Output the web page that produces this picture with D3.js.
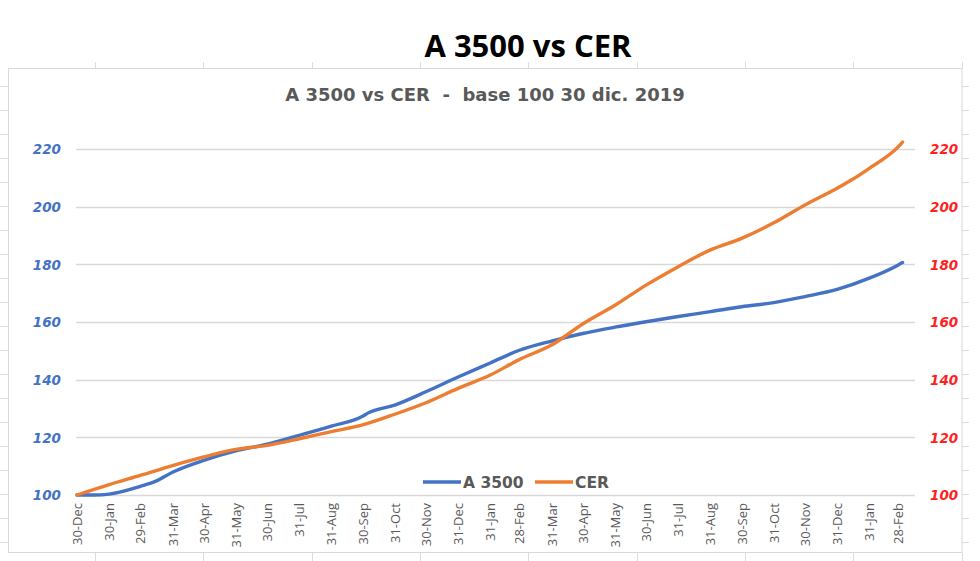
<!DOCTYPE html>
<html>
<head>
<meta charset="utf-8">
<script src="https://cdn.jsdelivr.net/npm/d3@7"></script>
<style>
  html, body { margin: 0; padding: 0; background: #fff; }
  svg { display: block; }
  text { white-space: pre; }
</style>
</head>
<body>
<svg id="chart" width="980" height="561"></svg>
<script>
// ---- data ----
const titleText = "A 3500 vs CER";
const subtitleText = "A 3500 vs CER  -  base 100 30 dic. 2019";
const seriesNames = ["A 3500", "CER"];

const a3500Dates = ["2019-12-30","2020-01-15","2020-01-30","2020-02-29","2020-03-15","2020-03-31","2020-04-30","2020-05-31","2020-06-30","2020-07-31","2020-08-31","2020-09-30","2020-10-05","2020-10-31","2020-11-30","2020-12-31","2021-01-31","2021-02-28","2021-03-31","2021-04-30","2021-05-31","2021-06-30","2021-07-31","2021-08-31","2021-09-30","2021-10-31","2021-11-30","2021-12-31","2022-01-31","2022-02-28","2022-03-04"];
const a3500Values = [100.0,100.0,100.3,103.0,104.8,107.9,112.0,115.3,117.6,120.7,123.9,127.3,128.4,131.2,135.8,140.9,145.8,150.2,153.4,156.0,158.2,160.1,161.9,163.6,165.3,166.7,168.8,171.3,175.2,179.8,180.6];

const cerDates = ["2019-12-30","2020-01-30","2020-02-29","2020-03-31","2020-04-30","2020-05-31","2020-06-30","2020-07-31","2020-08-31","2020-09-30","2020-10-31","2020-11-30","2020-12-31","2021-01-31","2021-02-28","2021-03-31","2021-04-30","2021-05-31","2021-06-30","2021-07-31","2021-08-31","2021-09-30","2021-10-31","2021-11-30","2021-12-31","2022-01-15","2022-01-31","2022-02-28","2022-03-04"];
const cerValues = [100.0,103.6,106.8,110.2,113.2,115.8,117.2,119.5,122.0,124.3,128.0,132.0,137.0,141.6,147.0,152.0,159.3,165.8,172.8,179.2,185.0,189.0,194.4,200.6,206.4,209.5,213.3,220.8,222.4];

const xTickDates = ["2019-12-30","2020-01-30","2020-02-29","2020-03-31","2020-04-30","2020-05-31","2020-06-30","2020-07-31","2020-08-31","2020-09-30","2020-10-31","2020-11-30","2020-12-31","2021-01-31","2021-02-28","2021-03-31","2021-04-30","2021-05-31","2021-06-30","2021-07-31","2021-08-31","2021-09-30","2021-10-31","2021-11-30","2021-12-31","2022-01-31","2022-02-28"];
const yTicks = [100, 120, 140, 160, 180, 200, 220];
const xDomain = ["2019-12-30", "2022-03-16"];
const yDomain = [100, 220];

// ---- setup ----
const parse = d3.timeParse("%Y-%m-%d");
const fmt = d3.timeFormat("%d-%b");
const svg = d3.select("#chart");
const W = 980, H = 561;

svg.append("rect").attr("width", W).attr("height", H).attr("fill", "#fff");

// spreadsheet cell border stubs around the chart object
const sheet = svg.append("g").attr("stroke", "#dcdcdc").attr("stroke-width", 1);
const colXs = d3.range(0, 9).map(i => 95 + i * 108.33);
colXs.forEach(x => {
  sheet.append("line").attr("x1", Math.round(x) + 0.5).attr("x2", Math.round(x) + 0.5).attr("y1", 62).attr("y2", 69);
  sheet.append("line").attr("x1", Math.round(x) + 0.5).attr("x2", Math.round(x) + 0.5).attr("y1", 553).attr("y2", 561);
});
const rowYs = d3.range(0, 20).map(i => 86 + i * 24);
rowYs.forEach(y => {
  sheet.append("line").attr("x1", 0).attr("x2", 8).attr("y1", y + 0.5).attr("y2", y + 0.5);
  sheet.append("line").attr("x1", 962).attr("x2", 969).attr("y1", y + 0.5).attr("y2", y + 0.5);
});

// chart frame
svg.append("rect").attr("x", 8.5).attr("y", 68.5).attr("width", 953.5).attr("height", 484)
  .attr("fill", "#fff").attr("stroke", "#d9d9d9").attr("stroke-width", 1);

// titles
svg.append("text").attr("x", 528).attr("y", 57).attr("text-anchor", "middle")
  .attr("font-family", "'Open Sans', sans-serif").attr("font-weight", "bold")
  .attr("font-size", 31).attr("fill", "#000").text(titleText);
svg.append("text").attr("x", 485).attr("y", 101).attr("text-anchor", "middle")
  .attr("font-family", "'DejaVu Sans', sans-serif").attr("font-weight", "bold")
  .attr("font-size", 18).attr("fill", "#595959").text(subtitleText);

// scales
const x = d3.scaleTime().domain(xDomain.map(parse)).range([77, 915]);
const yL = d3.scaleLinear().domain(yDomain).range([495, 149]);
const yR = d3.scaleLinear().domain(yDomain).range([495, 149]);

// gridlines
svg.append("g").selectAll("line").data(yTicks).join("line")
  .attr("x1", 76).attr("x2", x.range()[1])
  .attr("y1", d => Math.round(yL(d)) + 0.5).attr("y2", d => Math.round(yL(d)) + 0.5)
  .attr("stroke", "#d9d9d9").attr("stroke-width", 1.3);

// left axis
const gL = svg.append("g").attr("transform", "translate(61,0)")
  .call(d3.axisLeft(yL).tickValues(yTicks).tickSize(0).tickPadding(0));
gL.select(".domain").remove();
gL.selectAll("text").attr("font-family", "'DejaVu Sans', sans-serif").attr("font-weight", "bold")
  .attr("font-style", "italic").attr("font-size", 13.5).attr("fill", "#4472c4").attr("dy", "0.36em");

// right axis
const gR = svg.append("g").attr("transform", "translate(930,0)")
  .call(d3.axisRight(yR).tickValues(yTicks).tickSize(0).tickPadding(0));
gR.select(".domain").remove();
gR.selectAll("text").attr("font-family", "'DejaVu Sans', sans-serif").attr("font-weight", "bold")
  .attr("font-style", "italic").attr("font-size", 13.5).attr("fill", "#ff1f1f").attr("dy", "0.36em");

// bottom axis
const gX = svg.append("g").attr("transform", "translate(0,495)")
  .call(d3.axisBottom(x).tickValues(xTickDates.map(parse)).tickFormat(fmt).tickSize(0));
gX.select(".domain").remove();
gX.selectAll("text")
  .attr("font-family", "'Open Sans', sans-serif").attr("font-size", 13).attr("fill", "#595959")
  .attr("transform", "rotate(-90)").attr("text-anchor", "end")
  .attr("x", -8).attr("y", 0).attr("dy", "0.35em");

// series
const a3500 = a3500Dates.map((d, i) => ({ date: parse(d), value: a3500Values[i] }));
const cer = cerDates.map((d, i) => ({ date: parse(d), value: cerValues[i] }));

const lineL = d3.line().x(d => x(d.date)).y(d => yL(d.value)).curve(d3.curveMonotoneX);
const lineR = d3.line().x(d => x(d.date)).y(d => yR(d.value)).curve(d3.curveMonotoneX);

svg.append("path").datum(a3500).attr("d", lineL).attr("fill", "none")
  .attr("stroke", "#4472c4").attr("stroke-width", 3.4).attr("stroke-linejoin", "round").attr("stroke-linecap", "round");
svg.append("path").datum(cer).attr("d", lineR).attr("fill", "none")
  .attr("stroke", "#ed7d31").attr("stroke-width", 3.4).attr("stroke-linejoin", "round").attr("stroke-linecap", "round");

// legend
const legend = svg.append("g").attr("transform", "translate(423,482)");
const legItems = [
  { name: seriesNames[0], color: "#4472c4", x: 0 },
  { name: seriesNames[1], color: "#ed7d31", x: 112 }
];
legItems.forEach(it => {
  legend.append("line").attr("x1", it.x).attr("x2", it.x + 38).attr("y1", 0).attr("y2", 0)
    .attr("stroke", it.color).attr("stroke-width", 3.4);
  legend.append("text").attr("x", it.x + 40).attr("y", 0).attr("dy", "0.36em")
    .attr("font-family", "'DejaVu Sans', sans-serif").attr("font-weight", "bold")
    .attr("font-size", 15.5).attr("fill", "#595959").text(it.name);
});
</script>
</body>
</html>
